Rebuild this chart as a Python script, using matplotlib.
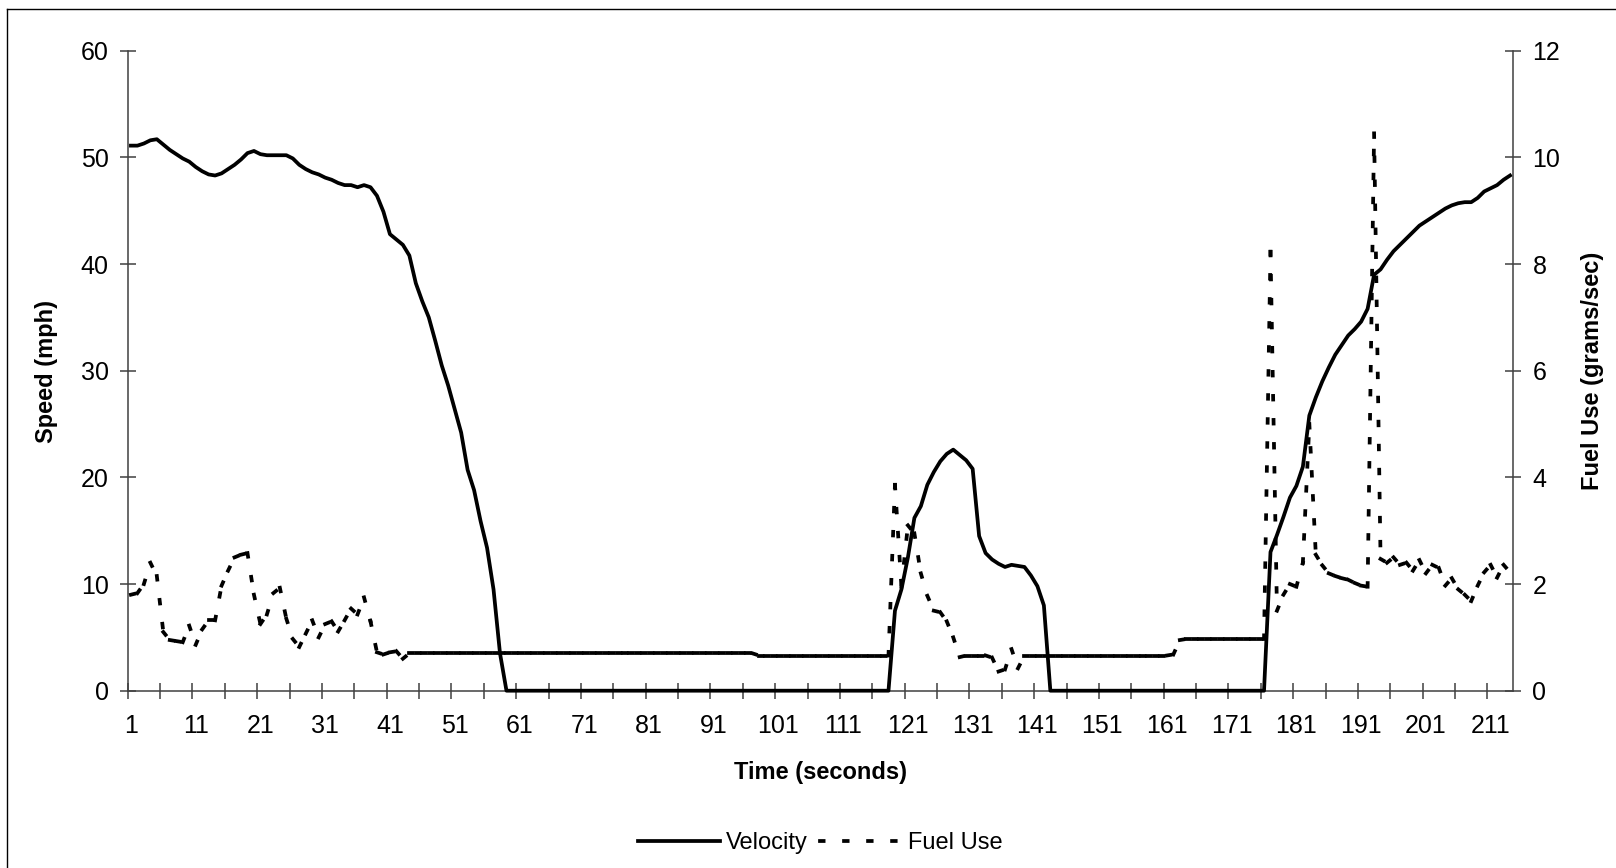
import numpy as np
import matplotlib
matplotlib.use('Agg')
import matplotlib.pyplot as plt
from matplotlib.collections import LineCollection
from matplotlib.lines import Line2D

# time axis (seconds), one category per second
time_s = np.arange(1, 215)

# speed in mph (left axis)
velocity = [
    51.1, 51.1, 51.3, 51.6, 51.7, 51.2, 50.7, 50.3, 49.9, 49.6,
    49.1, 48.7, 48.4, 48.3, 48.5, 48.9, 49.3, 49.8, 50.4, 50.6,
    50.3, 50.2, 50.2, 50.2, 50.2, 49.9, 49.3, 48.9, 48.6, 48.4,
    48.1, 47.9, 47.6, 47.4, 47.4, 47.2, 47.4, 47.2, 46.4, 44.9,
    42.8, 42.3, 41.8, 40.8, 38.2, 36.5, 35.0, 32.8, 30.5, 28.6,
    26.4, 24.2, 20.7, 18.8, 15.9, 13.4, 9.5, 3.5, 0.0, 0.0,
    0.0, 0.0, 0.0, 0.0, 0.0, 0.0, 0.0, 0.0, 0.0, 0.0,
    0.0, 0.0, 0.0, 0.0, 0.0, 0.0, 0.0, 0.0, 0.0, 0.0,
    0.0, 0.0, 0.0, 0.0, 0.0, 0.0, 0.0, 0.0, 0.0, 0.0,
    0.0, 0.0, 0.0, 0.0, 0.0, 0.0, 0.0, 0.0, 0.0, 0.0,
    0.0, 0.0, 0.0, 0.0, 0.0, 0.0, 0.0, 0.0, 0.0, 0.0,
    0.0, 0.0, 0.0, 0.0, 0.0, 0.0, 0.0, 0.0, 7.5, 9.5,
    12.5, 16.2, 17.3, 19.3, 20.5, 21.5, 22.2, 22.6, 22.1, 21.6,
    20.8, 14.5, 12.9, 12.3, 11.9, 11.6, 11.8, 11.7, 11.6, 10.8,
    9.8, 8.0, 0.0, 0.0, 0.0, 0.0, 0.0, 0.0, 0.0, 0.0,
    0.0, 0.0, 0.0, 0.0, 0.0, 0.0, 0.0, 0.0, 0.0, 0.0,
    0.0, 0.0, 0.0, 0.0, 0.0, 0.0, 0.0, 0.0, 0.0, 0.0,
    0.0, 0.0, 0.0, 0.0, 0.0, 0.0, 13.0, 14.6, 16.3, 18.1,
    19.2, 21.0, 25.8, 27.5, 29.0, 30.3, 31.5, 32.4, 33.3, 33.9,
    34.6, 35.8, 39.0, 39.5, 40.4, 41.2, 41.8, 42.4, 43.0, 43.6,
    44.0, 44.4, 44.8, 45.2, 45.5, 45.7, 45.8, 45.8, 46.2, 46.8,
    47.1, 47.4, 47.9, 48.3,
]

# fuel use in grams/sec (right axis)
fuel_use = [
    1.80, 1.83, 2.00, 2.40, 2.15, 1.10, 0.95, 0.93, 0.91, 1.22,
    0.86, 1.15, 1.32, 1.32, 1.97, 2.25, 2.50, 2.55, 2.58, 1.80,
    1.25, 1.43, 1.83, 1.93, 1.35, 0.97, 0.82, 1.07, 1.32, 1.00,
    1.25, 1.30, 1.11, 1.32, 1.54, 1.43, 1.75, 1.30, 0.72, 0.68,
    0.72, 0.74, 0.60, 0.70, 0.70, 0.70, 0.70, 0.70, 0.70, 0.70,
    0.70, 0.70, 0.70, 0.70, 0.70, 0.70, 0.70, 0.70, 0.70, 0.70,
    0.70, 0.70, 0.70, 0.70, 0.70, 0.70, 0.70, 0.70, 0.70, 0.70,
    0.70, 0.70, 0.70, 0.70, 0.70, 0.70, 0.70, 0.70, 0.70, 0.70,
    0.70, 0.70, 0.70, 0.70, 0.70, 0.70, 0.70, 0.70, 0.70, 0.70,
    0.70, 0.70, 0.70, 0.70, 0.70, 0.70, 0.70, 0.66, 0.66, 0.66,
    0.66, 0.66, 0.66, 0.66, 0.66, 0.66, 0.66, 0.66, 0.66, 0.66,
    0.66, 0.66, 0.66, 0.66, 0.66, 0.66, 0.66, 0.66, 3.86, 1.95,
    3.10, 2.95, 2.20, 1.78, 1.50, 1.47, 1.30, 1.00, 0.63, 0.66,
    0.66, 0.66, 0.66, 0.62, 0.36, 0.40, 0.78, 0.42, 0.66, 0.66,
    0.66, 0.66, 0.66, 0.66, 0.66, 0.66, 0.66, 0.66, 0.66, 0.66,
    0.66, 0.66, 0.66, 0.66, 0.66, 0.66, 0.66, 0.66, 0.66, 0.66,
    0.66, 0.68, 0.95, 0.97, 0.97, 0.97, 0.97, 0.97, 0.97, 0.97,
    0.97, 0.97, 0.97, 0.97, 0.97, 0.97, 8.23, 1.50, 1.80, 2.00,
    1.95, 2.40, 5.00, 2.55, 2.35, 2.20, 2.15, 2.11, 2.08, 2.02,
    1.97, 1.95, 10.45, 2.47, 2.40, 2.50, 2.36, 2.40, 2.25, 2.45,
    2.20, 2.36, 2.30, 1.97, 2.11, 1.90, 1.80, 1.68, 1.97, 2.22,
    2.36, 2.12, 2.36, 2.22,
]

speed_ticks = [0, 10, 20, 30, 40, 50, 60]
fuel_ticks = [0, 2, 4, 6, 8, 10, 12]
time_labels = [1, 11, 21, 31, 41, 51, 61, 71, 81, 91, 101, 111,
               121, 131, 141, 151, 161, 171, 181, 191, 201, 211]

plt.rcParams['font.family'] = ['Liberation Sans', 'DejaVu Sans']
plt.rcParams['lines.scale_dashes'] = False

W, H = 1616, 868
AXIS_COLOR = '#404040'
LW = 2.7
# excel style dash (about 7px on, 24px period) that restarts on every segment;
# projecting caps add half a line width at both ends of each dash
DASH = (0, (2.6, 14.7))

fig = plt.figure(figsize=(W / 100, H / 100), dpi=100)
ax = fig.add_axes([127.7 / W, 1 - 690.7 / H, (1513.3 - 127.7) / W, (690.7 - 50.7) / H])
ax2 = ax.twinx()

# velocity: solid line on the left axis
ax.plot(time_s, velocity, color='black', lw=LW, solid_joinstyle='round',
        clip_on=False, zorder=3)

# fuel use: every segment dashed on its own, like Excel does
pts = np.column_stack([time_s, fuel_use])
segs = np.stack([pts[:-1], pts[1:]], axis=1)
lc = LineCollection(segs, colors='black', linewidths=LW, linestyles=[DASH],
                    capstyle='projecting', clip_on=False, zorder=3)
ax2.add_collection(lc)

ax.set_xlim(0.5, 214.5)
ax.set_ylim(0, 60)
ax2.set_ylim(0, 12)

# spines
for s in ['top', 'right']:
    ax.spines[s].set_visible(False)
for s in ['top', 'left', 'bottom']:
    ax2.spines[s].set_visible(False)
for sp in [ax.spines['left'], ax.spines['bottom'], ax2.spines['right']]:
    sp.set_color(AXIS_COLOR)
    sp.set_linewidth(1.1)

# x axis: tick marks on category borders every 5, labels every 10
ax.set_xticks(np.arange(0.5, 211, 5))
ax.set_xticklabels([])
ax.set_xticks(time_labels, [str(t) for t in time_labels], minor=True)
ax.tick_params(axis='x', which='major', direction='inout', length=11.5,
               width=1.1, color=AXIS_COLOR)
ax.tick_params(axis='x', which='minor', length=0, pad=17, labelsize=18)

ax.set_yticks(speed_ticks)
ax.tick_params(axis='y', direction='inout', length=11.5, width=1.1,
               color=AXIS_COLOR, pad=8, labelsize=18)
ax2.set_yticks(fuel_ticks)
ax2.tick_params(axis='y', direction='inout', length=11.5, width=1.1,
                color=AXIS_COLOR, pad=8, labelsize=18)

# axis titles
fig.text(820.5 / W, 1 - 773 / H, 'Time (seconds)', ha='center', va='center',
         fontsize=17, fontweight='bold')
fig.text(46.4 / W, 1 - 371 / H, 'Speed (mph)', ha='center', va='center',
         rotation=90, fontsize=17, fontweight='bold')
fig.text(1592 / W, 1 - 371 / H, 'Fuel Use (grams/sec)', ha='center', va='center',
         rotation=90, fontsize=17, fontweight='bold')

# legend below the chart
handles = [
    Line2D([], [], color='black', lw=LW),
    Line2D([], [], color='black', lw=LW, linestyle=DASH, dash_capstyle='projecting'),
]
fig.legend(handles, ['Velocity', 'Fuel Use'], loc='center',
           bbox_to_anchor=(820.5 / W, 1 - 843 / H), ncol=2, frameon=False,
           fontsize=17, handlelength=3.45, handletextpad=0.28, columnspacing=0.52)

# chart area border (only top and left visible in the crop)
fig.add_artist(Line2D([7.3 / W, 7.3 / W], [0, 1 - 9.3 / H], transform=fig.transFigure,
                      color='black', lw=1.0))
fig.add_artist(Line2D([7.3 / W, 1], [1 - 9.3 / H, 1 - 9.3 / H], transform=fig.transFigure,
                      color='black', lw=1.0))

fig.savefig('out.png', dpi=100)
